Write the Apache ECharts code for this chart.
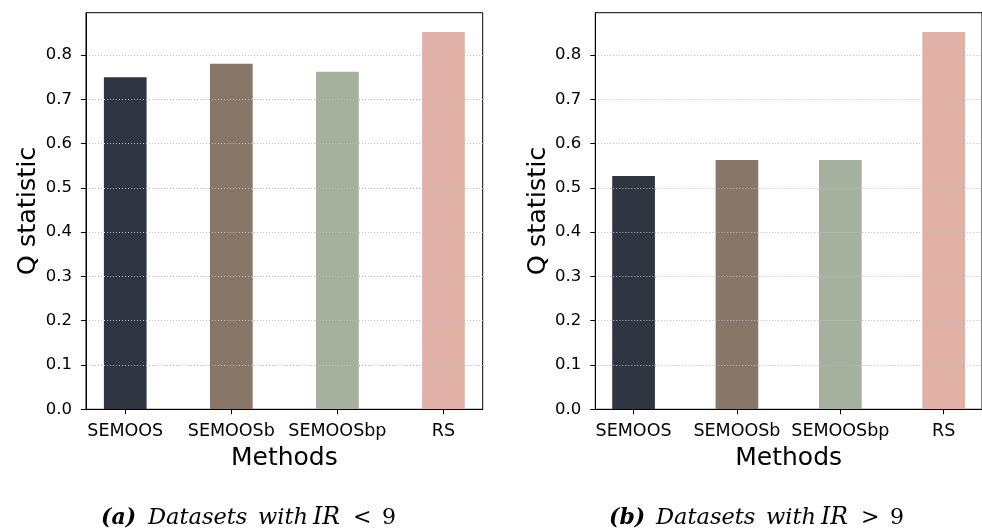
<!DOCTYPE html>
<html><head><meta charset="utf-8">
<script src="https://cdn.jsdelivr.net/npm/echarts@6/dist/echarts.min.js"></script>
<style>html,body{margin:0;padding:0;background:#fff}#c{width:982px;height:532px}</style>
</head><body><div id="c"></div>
<script>
const categories = ['SEMOOS', 'SEMOOSb', 'SEMOOSbp', 'RS'];
const valuesA = [0.750, 0.780, 0.762, 0.852];
const valuesB = [0.527, 0.563, 0.563, 0.852];
const yTicks = [0, 0.1, 0.2, 0.3, 0.4, 0.5, 0.6, 0.7, 0.8];
const xPositions = [0, 1, 2, 3];
const captionA = ['(a)', 'Datasets', 'with', 'IR', '<', '9'];
const captionB = ['(b)', 'Datasets', 'with', 'IR', '>', '9'];
const yName = 'Q statistic';
const xName = 'Methods';

const colors = ['#2f3541', '#887668', '#a6b09f', '#e1b1a8'];
const font = 'DejaVu Sans';
const chart = echarts.init(document.getElementById('c'), null, {renderer: 'canvas'});

const grids = [
  {left: 86, top: 12.7, width: 396.7, height: 396.6},
  {left: 595.3, top: 12.7, width: 396.7, height: 396.6}
];

function xAxis(i) {
  return {
    type: 'value', gridIndex: i, min: -0.37, max: 3.37, z: 6,
    name: xName, nameLocation: 'middle', nameGap: 37,
    nameTextStyle: {fontFamily: font, fontSize: 25, color: '#000'},
    axisLine: {show: true, onZero: false, lineStyle: {color: '#000', width: 1}},
    axisTick: {show: true, length: 5, lineStyle: {color: '#000'}, customValues: xPositions},
    axisLabel: {customValues: xPositions, margin: 13, fontFamily: font, fontSize: 17.5, color: '#000',
      formatter: v => categories[Math.round(v)]},
    splitLine: {show: false}
  };
}
function yAxis(i) {
  return {
    type: 'value', gridIndex: i, min: 0, max: 0.8955, z: 5,
    name: yName, nameLocation: 'middle', nameGap: 42, nameRotate: 90,
    nameTextStyle: {fontFamily: font, fontSize: 25.5, color: '#000'},
    axisLine: {show: true, onZero: false, lineStyle: {color: '#000', width: 1}},
    axisTick: {show: true, length: 5, lineStyle: {color: '#000'}, customValues: yTicks},
    axisLabel: {customValues: yTicks, margin: 14, fontFamily: font, fontSize: 16.5, color: '#000',
      formatter: v => v.toFixed(1)},
    splitLine: {show: true, lineStyle: {color: '#bdbdbd', width: 1, type: [1, 2]}}
  };
}
function series(i, vals) {
  return {
    type: 'bar', xAxisIndex: i, yAxisIndex: i, barWidth: 42.7, z: 2,
    data: vals.map((v, k) => ({value: [xPositions[k], v], itemStyle: {color: colors[k]}}))
  };
}
const capOffsets = [0, 47, 157, 212, 252, 281];
const capStyles = [
  {fontStyle: 'italic', fontWeight: 'bold', fontSize: 22},
  {fontStyle: 'italic', fontSize: 22.5}, {fontStyle: 'italic', fontSize: 22.5}, {fontStyle: 'italic', fontSize: 23.5},
  {fontSize: 22}, {fontSize: 22}
];
function caption(x0, parts) {
  return parts.map((p, k) => ({
    type: 'text', x: x0 + capOffsets[k], y: 518,
    style: Object.assign({
      text: p, fontFamily: 'DejaVu Serif', fill: '#000',
      textVerticalAlign: 'middle', verticalAlign: 'middle'
    }, capStyles[k])
  }));
}

chart.setOption({
  animation: false,
  grid: grids.map(g => Object.assign({show: true, borderColor: '#000', borderWidth: 1, backgroundColor: 'transparent', z: 0}, g)),
  xAxis: [xAxis(0), xAxis(1)],
  yAxis: [yAxis(0), yAxis(1)],
  series: [series(0, valuesA), series(1, valuesB)],
  graphic: caption(101, captionA).concat(caption(609, captionB))
});
</script></body></html>
